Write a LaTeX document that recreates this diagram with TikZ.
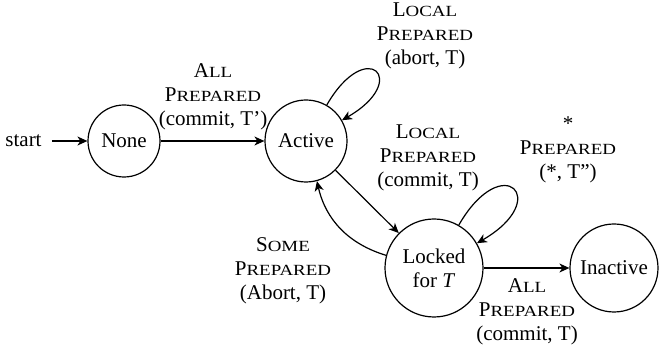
\documentclass[tikz,border=0pt]{standalone}
\usepackage{fontspec}
\setmainfont{Liberation Serif}
\newfontfamily\scfake[FakeStretch=1.22]{Liberation Serif}
\usetikzlibrary{arrows.meta}
\newcommand\fsc[2]{#1{\scfake\fontsize{15.5}{24}\selectfont #2}}
\begin{document}
\begin{tikzpicture}[x=1pt,y=1pt,
  font=\fontsize{21}{24}\selectfont,
  state/.style={draw, circle, line width=1.2pt, inner sep=0pt},
  lbl/.style={align=center, inner sep=0pt},
  edge/.style={-{Stealth[length=10pt,width=9pt,inset=3pt]}, line width=1.2pt}]
\useasboundingbox (0,0) rectangle (659,353);
\node[state, minimum size=72pt] (none) at (124,212) {None};
\node[state, minimum size=82pt] (active) at (306,212) {Active};
\node[state, minimum size=98pt, align=center] (locked) at (434,85) {Locked\\for \textit{T}};
\node[state, minimum size=88pt] (inactive) at (614,85) {Inactive};
\node[inner sep=0pt] (start) at (23.5,212) {start};

\draw[edge, shorten <=10pt] (start) -- (none);
\draw[edge] (none) -- (active);
\draw[edge] (active) -- (locked);
\draw[edge] (locked) to[bend left=30] (active);
\draw[edge] (locked) -- (inactive);
\draw[edge] (active.60) .. controls +(60:80) and +(30:80) .. (active.30);
\draw[edge] (locked.60) .. controls +(60:88) and +(30:88) .. (locked.30);

\node[lbl] (l1) at (213,256) {\fsc{A}{LL}\\\fsc{P}{REPARED}\\(commit, T’)};
\node[lbl] (l2) at (425,317) {\fsc{L}{OCAL}\\\fsc{P}{REPARED}\\(abort, T)};
\node[lbl] (l3) at (428,195) {\fsc{L}{OCAL}\\\fsc{P}{REPARED}\\(commit, T)};
\node[lbl] (l4) at (568,203) {*\\\fsc{P}{REPARED}\\(*, T”)};
\node[lbl] (l5) at (283,82) {\fsc{S}{OME}\\\fsc{P}{REPARED}\\(Abort, T)};
\node[lbl] (l6) at (527,41) {\fsc{A}{LL}\\\fsc{P}{REPARED}\\(commit, T)};
\end{tikzpicture}
\end{document}
